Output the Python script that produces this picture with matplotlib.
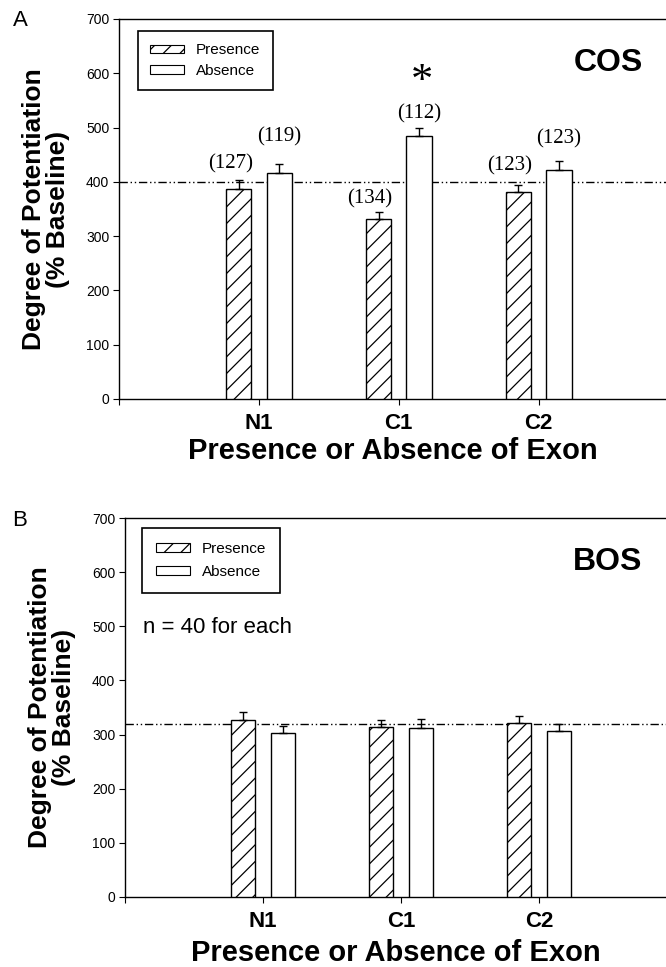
import numpy as np
import matplotlib.pyplot as plt
from matplotlib.patches import Patch


plt.rcParams['font.family'] = ['Liberation Sans', 'DejaVu Sans']
plt.rcParams['hatch.linewidth'] = 0.9

groups = ['N1', 'C1', 'C2']

cos_presence = [387, 332, 381]
cos_presence_err = [16, 12, 14]
cos_absence = [417, 484, 421]
cos_absence_err = [16, 16, 17]
cos_presence_n = ['(127)', '(134)', '(123)']
cos_absence_n = ['(119)', '(112)', '(123)']
cos_baseline = 400

bos_presence = [327, 314, 322]
bos_presence_err = [15, 13, 12]
bos_absence = [302, 313, 306]
bos_absence_err = [13, 15, 14]
bos_baseline = 320


def draw_panel(ax, presence, presence_err, absence, absence_err, baseline, title, xlabel_pad):
    x = np.arange(1, len(groups) + 1)
    w = 0.18
    off = 0.145
    ax.bar(x - off, presence, w, color='white', edgecolor='black', hatch='//', linewidth=1.0, zorder=3)
    ax.bar(x + off, absence, w, color='white', edgecolor='black', linewidth=1.0, zorder=3)
    ax.errorbar(x - off, presence, yerr=[np.zeros(len(x)), presence_err], fmt='none',
                ecolor='black', elinewidth=1.0, capsize=3, capthick=1.0, zorder=4)
    ax.errorbar(x + off, absence, yerr=[np.zeros(len(x)), absence_err], fmt='none',
                ecolor='black', elinewidth=1.0, capsize=3, capthick=1.0, zorder=4)
    ax.axhline(baseline, color='black', linewidth=1.0, dashes=(6, 2, 1, 2, 1, 2), zorder=2)

    ax.set_xlim(0, 3.91)
    ax.set_ylim(0, 700)
    ax.set_yticks(range(0, 701, 100))
    ax.set_xticks([0, 1, 2, 3])
    ax.set_xticklabels([''] + groups, fontsize=16, fontweight='bold')
    ax.tick_params(axis='y', direction='out', length=4, width=0.8, labelsize=10, pad=3)
    ax.tick_params(axis='x', direction='out', length=4, width=0.8, pad=6)
    ax.spines['right'].set_visible(False)
    for s in ['left', 'bottom', 'top']:
        ax.spines[s].set_linewidth(1.0)

    ax.set_xlabel('Presence or Absence of Exon', fontsize=21, fontweight='bold', labelpad=xlabel_pad)
    ax.set_ylabel('Degree of Potentiation\n(% Baseline)', fontsize=19, fontweight='bold',
                  linespacing=1.0)
    ax.yaxis.set_label_coords(-0.09, 0.5)

    ax.text(3.5, 619, title, fontsize=23, fontweight='bold', ha='center', va='center')

    handles = [Patch(facecolor='white', edgecolor='black', hatch='//', linewidth=0.8),
               Patch(facecolor='white', edgecolor='black', linewidth=0.8)]
    return x, off, handles


fig = plt.figure(figsize=(6.66, 9.67), dpi=100)

# panel A
ax1 = fig.add_axes([119 / 666, 568 / 967, 547 / 666, 380 / 967])
x, off, handles = draw_panel(ax1, cos_presence, cos_presence_err, cos_absence, cos_absence_err,
                             cos_baseline, 'COS', 2)
leg = ax1.legend(handles, ['Presence', 'Absence'], loc='upper left', bbox_to_anchor=(0.035, 0.968),
                 fontsize=11, frameon=True, fancybox=False, edgecolor='black', framealpha=1,
                 handlelength=2.2, handleheight=0.5, handletextpad=0.8, borderpad=0.8,
                 labelspacing=0.45, borderaxespad=0)
leg.get_frame().set_linewidth(1.2)

presence_lift = [31, 25, 35]
absence_lift = [50, 26, 42]
for i in range(len(groups)):
    ax1.text(x[i] - off - 0.06, cos_presence[i] + cos_presence_err[i] + presence_lift[i],
             cos_presence_n[i], family='Liberation Serif', fontsize=15, ha='center', va='center')
    ax1.text(x[i] + off, cos_absence[i] + cos_absence_err[i] + absence_lift[i],
             cos_absence_n[i], family='Liberation Serif', fontsize=15, ha='center', va='center')
ax1.text(x[1] + off + 0.02, 547, '*', family='Liberation Serif', fontsize=32,
         ha='center', va='bottom')

fig.text(13 / 666, 1 - 21 / 967, 'A', fontsize=16, va='center', ha='left')

# panel B
ax2 = fig.add_axes([125 / 666, 70 / 967, 541 / 666, 379 / 967])
draw_panel(ax2, bos_presence, bos_presence_err, bos_absence, bos_absence_err,
           bos_baseline, 'BOS', 5)
ax2.set_xlim(0, 3.92)
leg2 = ax2.legend(handles, ['Presence', 'Absence'], loc='upper left', bbox_to_anchor=(0.032, 0.974),
                  fontsize=11, frameon=True, fancybox=False, edgecolor='black', framealpha=1,
                  handlelength=2.2, handleheight=0.5, handletextpad=0.8, borderpad=0.9,
                  labelspacing=0.6, borderaxespad=0)
leg2.get_frame().set_linewidth(1.2)
ax2.text(0.13, 497, 'n = 40 for each', fontsize=16, ha='left', va='center')

fig.text(12 / 666, 1 - 520 / 967, 'B', fontsize=16, va='center', ha='left')

fig.savefig('out.png', dpi=100)
